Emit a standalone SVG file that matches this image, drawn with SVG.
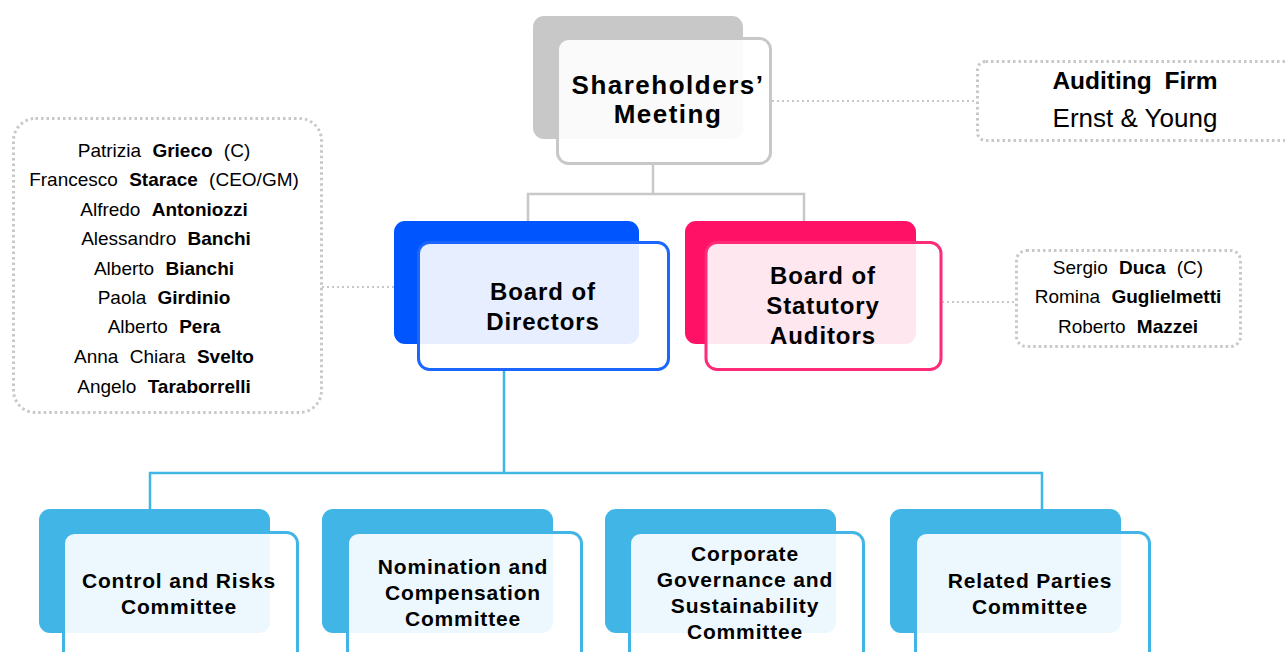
<svg xmlns="http://www.w3.org/2000/svg" width="1285" height="652" viewBox="0 0 1285 652">
<style>
text{font-family:"Liberation Sans",Arial,sans-serif;fill:#000;text-anchor:middle}
.s{font-weight:bold;font-size:26px;letter-spacing:1.5px}
.t{font-weight:bold;font-size:24px;letter-spacing:0.9px}
.c{font-weight:bold;font-size:21px;letter-spacing:0.85px}
.n{font-size:19px;word-spacing:6px}
.b{font-weight:bold}
.front{fill:#fff;fill-opacity:0.9;stroke-width:3}
.dot{fill:none;stroke:#c8c8c8;stroke-width:3;stroke-dasharray:2.5 3}
.dl{fill:none;stroke:#c8c8c8;stroke-width:2;stroke-dasharray:2 3}
</style>
<rect width="1285" height="652" fill="#fff"/>
<g id="connectors" fill="none">
<path d="M653 165V194M528 221V194H804V221" stroke="#c8c8c8" stroke-width="2.5"/>
<path d="M504 371V473M150 509V473H1042V509" stroke="#41b6e6" stroke-width="2.5"/>
<path class="dl" d="M772 101H977"/>
<path class="dl" d="M322 287H394"/>
<path class="dl" d="M942 302H1016"/>
</g>
<g id="shareholders">
<rect x="533" y="16" width="210" height="123" rx="11" fill="#c8c8c8"/>
<rect class="front" x="557.5" y="38.5" width="213" height="125" rx="11" stroke="#c8c8c8"/>
<text class="s" x="668" y="94">Shareholders’</text>
<text class="s" x="668" y="123">Meeting</text>
</g>
<g id="directors">
<rect x="394" y="221" width="245" height="123" rx="11" fill="#0055ff"/>
<rect class="front" x="418.5" y="242.5" width="250" height="127" rx="11" stroke="#1a66ff"/>
<text class="t" x="543" y="300">Board of</text>
<text class="t" x="543" y="330">Directors</text>
</g>
<g id="statutory">
<rect x="685" y="221" width="231" height="123" rx="11" fill="#ff1166"/>
<rect class="front" x="706" y="242.5" width="235" height="127" rx="11" stroke="#ff2a78"/>
<text class="t" x="823" y="284">Board of</text>
<text class="t" x="823" y="314">Statutory</text>
<text class="t" x="823" y="344">Auditors</text>
</g>
<g id="auditing-firm">
<rect class="dot" x="977.5" y="61.5" width="320" height="79" rx="8"/>
<text x="1135" y="89" font-size="24.5" font-weight="bold" word-spacing="6">Auditing Firm</text>
<text x="1135" y="127" font-size="26">Ernst &amp; Young</text>
</g>
<g id="directors-list">
<rect class="dot" x="13.5" y="118.5" width="308" height="294" rx="22"/>
<text class="n" x="164" y="157">Patrizia <tspan class="b">Grieco</tspan> (C)</text>
<text class="n" x="164" y="186">Francesco <tspan class="b">Starace</tspan> (CEO/GM)</text>
<text class="n" x="164" y="216">Alfredo <tspan class="b">Antoniozzi</tspan></text>
<text class="n" x="166" y="245">Alessandro <tspan class="b">Banchi</tspan></text>
<text class="n" x="164" y="275">Alberto <tspan class="b">Bianchi</tspan></text>
<text class="n" x="164" y="304">Paola <tspan class="b">Girdinio</tspan></text>
<text class="n" x="164" y="333">Alberto <tspan class="b">Pera</tspan></text>
<text class="n" x="164" y="363">Anna Chiara <tspan class="b">Svelto</tspan></text>
<text class="n" x="164" y="393">Angelo <tspan class="b">Taraborrelli</tspan></text>
</g>
<g id="auditors-list">
<rect class="dot" x="1016.5" y="250.5" width="224" height="96" rx="10"/>
<text class="n" x="1128" y="274">Sergio <tspan class="b">Duca</tspan> (C)</text>
<text class="n" x="1128" y="303">Romina <tspan class="b">Guglielmetti</tspan></text>
<text class="n" x="1128" y="333">Roberto <tspan class="b">Mazzei</tspan></text>
</g>
<g id="control-risks">
<rect x="39" y="509" width="231" height="124" rx="11" fill="#41b6e6"/>
<rect class="front" x="63.5" y="532.5" width="234" height="140" rx="11" stroke="#41b6e6"/>
<text class="c" x="179" y="588">Control and Risks</text>
<text class="c" x="179" y="614">Committee</text>
</g>
<g id="nomination">
<rect x="322" y="509" width="231" height="124" rx="11" fill="#41b6e6"/>
<rect class="front" x="347.5" y="532.5" width="234" height="140" rx="11" stroke="#41b6e6"/>
<text class="c" x="463" y="574">Nomination and</text>
<text class="c" x="463" y="600">Compensation</text>
<text class="c" x="463" y="626">Committee</text>
</g>
<g id="corporate-governance">
<rect x="605" y="509" width="231" height="124" rx="11" fill="#41b6e6"/>
<rect class="front" x="629.5" y="532.5" width="234" height="140" rx="11" stroke="#41b6e6"/>
<text class="c" x="745" y="561">Corporate</text>
<text class="c" x="745" y="587">Governance and</text>
<text class="c" x="745" y="613">Sustainability</text>
<text class="c" x="745" y="639">Committee</text>
</g>
<g id="related-parties">
<rect x="890" y="509" width="231" height="124" rx="11" fill="#41b6e6"/>
<rect class="front" x="915.5" y="532.5" width="234" height="140" rx="11" stroke="#41b6e6"/>
<text class="c" x="1030" y="588">Related Parties</text>
<text class="c" x="1030" y="614">Committee</text>
</g>
</svg>
